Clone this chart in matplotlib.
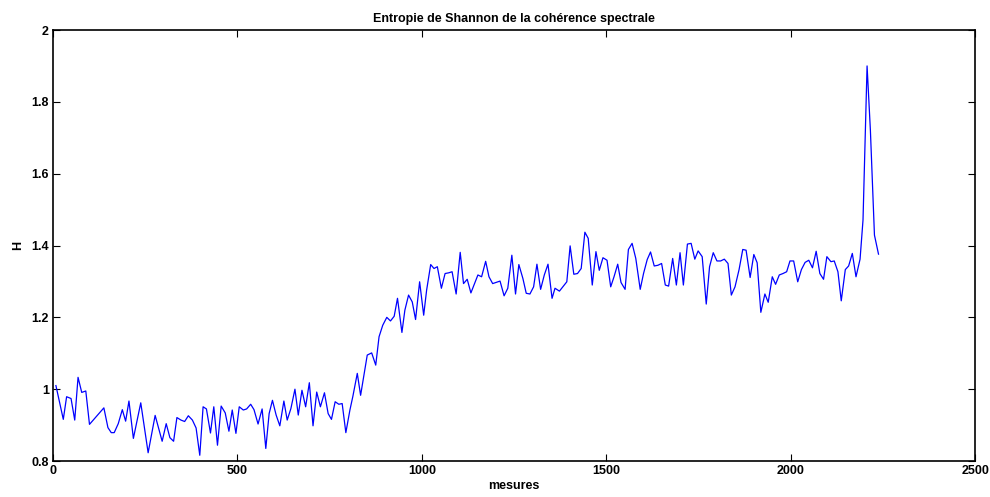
import matplotlib
matplotlib.use("Agg")
import matplotlib.pyplot as plt
from matplotlib.ticker import FuncFormatter

# DATA #
mesures = [8, 28, 37, 49, 59, 68, 78, 89, 99, 138, 149, 158, 166, 177, 188, 197, 206, 218, 238, 258,
           277, 296, 307, 317, 327, 336, 347, 357, 367, 378, 388, 398, 407, 416, 427, 436, 446, 456, 467, 477,
           486, 496, 505, 516, 525, 536, 545, 556, 567, 577, 586, 595, 605, 615, 626, 635, 645, 656, 665, 675,
           685, 695, 705, 715, 725, 736, 746, 755, 765, 775, 784, 794, 805, 813, 825, 834, 852, 864, 875, 884,
           894, 905, 915, 925, 934, 946, 954, 964, 974, 983, 994, 1005, 1013, 1024, 1033, 1042, 1053, 1063, 1073, 1082,
           1093, 1104, 1113, 1123, 1133, 1142, 1152, 1162, 1173, 1182, 1192, 1212, 1223, 1233, 1244, 1254, 1263, 1274, 1283, 1293,
           1303, 1312, 1322, 1332, 1342, 1353, 1361, 1373, 1393, 1402, 1412, 1422, 1432, 1442, 1451, 1462, 1472, 1481, 1491, 1502,
           1512, 1521, 1531, 1540, 1551, 1560, 1570, 1580, 1592, 1601, 1611, 1620, 1630, 1640, 1650, 1660, 1669, 1680, 1690, 1700,
           1709, 1720, 1730, 1740, 1749, 1760, 1771, 1780, 1790, 1800, 1810, 1820, 1830, 1839, 1849, 1860, 1870, 1879, 1890, 1900,
           1909, 1919, 1930, 1939, 1950, 1959, 1969, 1979, 1989, 1998, 2008, 2019, 2029, 2039, 2049, 2059, 2069, 2079, 2089, 2098,
           2109, 2118, 2128, 2137, 2148, 2157, 2167, 2177, 2188, 2196, 2207, 2216, 2227, 2238]

entropie = [1.010, 0.916, 0.979, 0.974, 0.914, 1.033, 0.991, 0.995, 0.902, 0.948, 0.893, 0.879, 0.879, 0.904, 0.943, 0.911, 0.967, 0.863, 0.962, 0.823,
            0.927, 0.855, 0.904, 0.865, 0.855, 0.921, 0.914, 0.910, 0.926, 0.914, 0.892, 0.816, 0.951, 0.945, 0.878, 0.951, 0.844, 0.953, 0.934, 0.883,
            0.942, 0.877, 0.951, 0.942, 0.945, 0.958, 0.943, 0.903, 0.945, 0.835, 0.932, 0.969, 0.928, 0.898, 0.967, 0.914, 0.946, 1.000, 0.928, 0.997,
            0.951, 1.018, 0.898, 0.992, 0.951, 0.990, 0.932, 0.916, 0.965, 0.958, 0.960, 0.879, 0.942, 0.980, 1.044, 0.983, 1.095, 1.101, 1.067, 1.146,
            1.178, 1.200, 1.190, 1.203, 1.253, 1.158, 1.220, 1.262, 1.243, 1.194, 1.299, 1.206, 1.276, 1.347, 1.336, 1.341, 1.281, 1.322, 1.324, 1.327,
            1.265, 1.381, 1.294, 1.306, 1.268, 1.292, 1.318, 1.313, 1.356, 1.313, 1.294, 1.301, 1.260, 1.281, 1.373, 1.265, 1.347, 1.308, 1.267, 1.265,
            1.285, 1.348, 1.278, 1.318, 1.348, 1.253, 1.281, 1.273, 1.299, 1.399, 1.320, 1.322, 1.336, 1.437, 1.420, 1.290, 1.383, 1.331, 1.366, 1.359,
            1.285, 1.313, 1.348, 1.297, 1.278, 1.389, 1.406, 1.364, 1.278, 1.322, 1.361, 1.382, 1.343, 1.345, 1.350, 1.290, 1.287, 1.364, 1.290, 1.380,
            1.290, 1.404, 1.406, 1.362, 1.385, 1.369, 1.237, 1.341, 1.380, 1.357, 1.357, 1.362, 1.350, 1.262, 1.285, 1.333, 1.389, 1.387, 1.311, 1.375,
            1.352, 1.214, 1.265, 1.242, 1.313, 1.292, 1.318, 1.322, 1.327, 1.357, 1.357, 1.299, 1.333, 1.353, 1.359, 1.338, 1.384, 1.322, 1.306, 1.369,
            1.355, 1.357, 1.327, 1.246, 1.333, 1.343, 1.378, 1.313, 1.362, 1.471, 1.900, 1.721, 1.429, 1.376]

xticks = [0, 500, 1000, 1500, 2000, 2500]
yticks = [0.8, 1.0, 1.2, 1.4, 1.6, 1.8, 2.0]

plt.rcParams['font.family'] = ['Liberation Sans', 'DejaVu Sans']
plt.rcParams['font.weight'] = 'bold'

fig = plt.figure(figsize=(9.9, 4.97), dpi=100)
ax = fig.add_axes([0.0535, 0.0724, 0.9315, 0.8672])

ax.plot(mesures, entropie, color='#0000ff', linewidth=0.9)

ax.set_xlim(0, 2500)
ax.set_ylim(0.8, 2)
ax.set_xticks(xticks)
ax.set_yticks(yticks)
ax.yaxis.set_major_formatter(FuncFormatter(lambda v, p: f"{v:g}"))
ax.tick_params(direction='in', top=True, right=True, length=5, width=0.8,
               labelsize=9, pad=3)
for lab in ax.get_xticklabels() + ax.get_yticklabels():
    lab.set_fontweight('bold')
for s in ax.spines.values():
    s.set_linewidth(1.2)

ax.set_title("Entropie de Shannon de la cohérence spectrale", fontsize=9, fontweight='bold', pad=6)
ax.set_xlabel("mesures", fontsize=9, fontweight='bold', labelpad=2)
ax.set_ylabel("H", fontsize=9, fontweight='bold', labelpad=5)

fig.savefig("out.png", dpi=100)
